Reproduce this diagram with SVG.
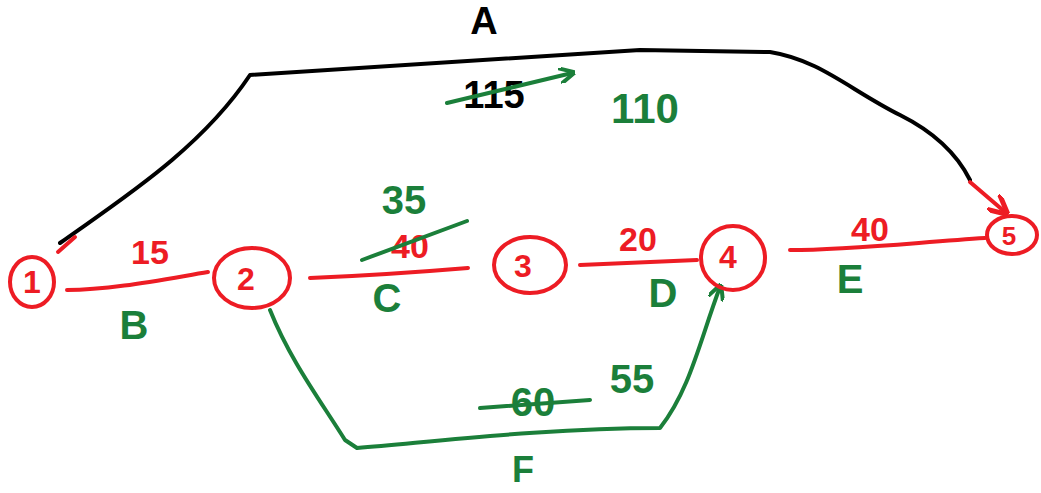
<svg xmlns="http://www.w3.org/2000/svg" width="1041" height="493" viewBox="0 0 1041 493">
<defs>
<style>
.r{stroke:#ED1C24;fill:none;stroke-width:4;stroke-linecap:round;stroke-linejoin:round}
.g{stroke:#1B7F3A;fill:none;stroke-width:4;stroke-linecap:round;stroke-linejoin:round}
.k{stroke:#000;fill:none;stroke-width:4;stroke-linecap:round;stroke-linejoin:round}
text{font-family:"Liberation Sans","DejaVu Sans",sans-serif;text-anchor:middle;font-weight:bold}
.tr{fill:#ED1C24;font-size:34px}
.tg{fill:#1B7F3A;font-size:40px}
.tk{fill:#000;font-size:38px}
.tn{fill:#ED1C24;font-size:32px}
</style>
<marker id="ag" viewBox="0 0 10 10" refX="8" refY="5" markerWidth="4" markerHeight="4" orient="auto"><path d="M0,0 L10,5 L0,10" fill="none" stroke="#1B7F3A" stroke-width="2.5"/></marker>
<marker id="ar" viewBox="0 0 10 10" refX="8" refY="5" markerWidth="5" markerHeight="5" orient="auto"><path d="M0,0 L10,5 L0,10" fill="none" stroke="#ED1C24" stroke-width="2.5"/></marker>
</defs>
<g id="connectors">
<g id="edge-A">
<path class="k" d="M60,243 C120,200 200,150 250,75 L640,50 L770,52 C820,60 850,90 900,115 C930,130 955,150 970,180"/>
<path class="r" d="M58,252 L75,237"/>
<path class="r" d="M970,182 L1005,212" marker-end="url(#ar)"/>
<text class="tk" x="484" y="34">A</text>
<text class="tk" x="494" y="108">115</text>
<path class="g" d="M447,103 L572,73" marker-end="url(#ag)"/>
<text class="tg" x="645" y="123" style="font-size:42px">110</text>
</g>
<g id="edge-B">
<path class="r" d="M67,290 C110,290 160,280 208,272"/>
<text class="tr" x="150" y="264">15</text>
<text class="tg" x="134" y="339">B</text>
</g>
<g id="edge-C">
<path class="r" d="M310,278 C360,276 420,272 468,268"/>
<text class="tr" x="410" y="258">40</text>
<path class="g" d="M362,260 L467,221"/>
<text class="tg" x="404" y="214">35</text>
<text class="tg" x="387" y="312">C</text>
</g>
<g id="edge-D">
<path class="r" d="M580,265 L697,260"/>
<text class="tr" x="638" y="251">20</text>
<text class="tg" x="663" y="307">D</text>
</g>
<g id="edge-E">
<path class="r" d="M790,250 C850,250 920,242 985,238"/>
<text class="tr" x="870" y="241">40</text>
<text class="tg" x="850" y="293">E</text>
</g>
<g id="edge-F">
<path class="g" d="M270,310 C290,360 320,400 345,440 L357,448 C450,440 550,428 660,428 C690,390 700,340 720,287" marker-end="url(#ag)"/>
<text class="tg" x="533" y="416">60</text>
<path class="g" d="M480,408 L590,400"/>
<text class="tg" x="632" y="393">55</text>
<text class="tg" x="523" y="482" style="font-size:36px">F</text>
</g>
</g>
<g id="node1"><ellipse class="r" cx="32" cy="282" rx="22" ry="25"/><text class="tn" x="32" y="293">1</text></g>
<g id="node2"><ellipse class="r" cx="252" cy="278" rx="38" ry="30"/><text class="tn" x="246" y="290">2</text></g>
<g id="node3"><ellipse class="r" cx="530" cy="265" rx="36" ry="28"/><text class="tn" x="523" y="277">3</text></g>
<g id="node4"><ellipse class="r" cx="733" cy="258" rx="32" ry="32"/><text class="tn" x="728" y="268">4</text></g>
<g id="node5"><ellipse class="r" cx="1012" cy="235" rx="25" ry="19"/><text class="tn" x="1009" y="245" style="font-size:26px">5</text></g>
</svg>
